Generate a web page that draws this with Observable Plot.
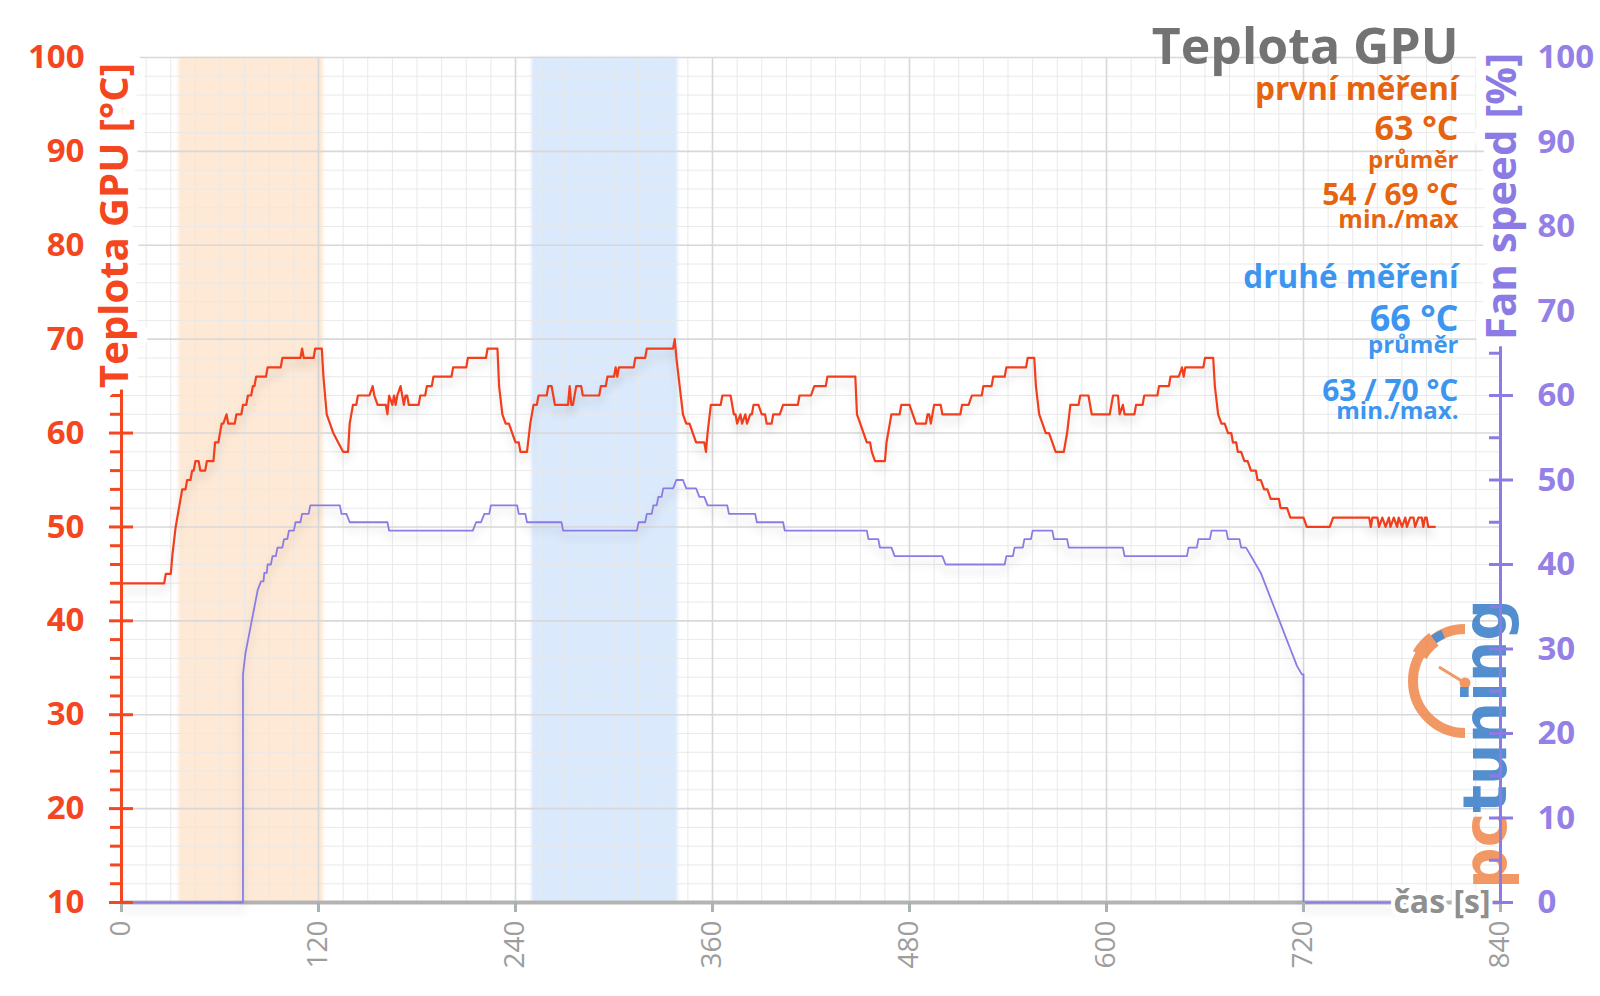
<!DOCTYPE html>
<html>
<head>
<meta charset="utf-8">
<script src="https://cdn.jsdelivr.net/npm/d3@7"></script>
<script src="https://cdn.jsdelivr.net/npm/@observablehq/plot@0.6"></script>
<style>
html, body { margin: 0; padding: 0; background: #fff; }
#chart svg { display: block; }
</style>
</head>
<body>
<div id="chart"></div>
<script>
// ---------- data ----------
const xTicks = [0, 120, 240, 360, 480, 600, 720, 840];
const tempTicks = [10, 20, 30, 40, 50, 60, 70, 80, 90, 100];
const fanTicks = [0, 10, 20, 30, 40, 50, 60, 70, 80, 90, 100];

// GPU temperature [°C] over time [s]
const tempSeries = [[0,44],[26,44],[27,45],[30,45],[31,47],[33,50],[35,52],[37,54],[39,54],[40,55],[42,55],[43,56],[44,56],[45,57],[47,57],[48,56],[51,56],[52,57],[56,57],[57,59],[59,59],[60,60],[61,61],[62,61],[64,62],[65,61],[69,61],[70,62],[73,62],[74,63],[76,63],[77,64],[79,64],[80,65],[81,65],[82,66],[88,66],[89,67],[97,67],[98,68],[109,68],[110,69],[111,68],[117,68],[118,69],[122,69],[123,66],[125,62],[127,61],[129,60],[132,59],[135,58],[138,58],[139,61],[141,63],[143,63],[144,64],[151,64],[153,65],[154,64],[156,63],[161,63],[162,62],[163,64],[165,63],[166,64],[167,63],[168,64],[170,65],[171,64],[172,63],[173,64],[174,64],[175,63],[181,63],[182,64],[185,64],[186,65],[189,65],[190,66],[201,66],[202,67],[210,67],[211,68],[222,68],[223,69],[229,69],[230,65],[232,62],[234,61],[236,61],[238,60],[240,59],[242,59],[243,58],[247,58],[249,61],[251,63],[253,63],[254,64],[259,64],[260,65],[262,65],[263,64],[264,63],[272,63],[273,65],[274,63],[275,63],[277,65],[280,65],[281,64],[291,64],[292,65],[295,65],[296,66],[300,66],[301,67],[302,66],[303,67],[312,67],[313,68],[319,68],[320,69],[336,69],[337,70],[338,68],[340,65],[342,62],[344,61],[346,61],[348,60],[350,59],[355,59],[356,58],[357,60],[359,63],[365,63],[366,64],[371,64],[373,62],[374,62],[375,61],[377,62],[378,61],[380,62],[381,61],[383,62],[384,62],[385,63],[388,63],[390,62],[392,62],[393,61],[396,61],[397,62],[401,62],[403,63],[412,63],[413,64],[420,64],[422,65],[429,65],[430,66],[447,66],[448,62],[450,61],[452,60],[454,59],[456,59],[457,58],[459,57],[465,57],[466,59],[468,61],[469,62],[474,62],[475,63],[480,63],[482,62],[484,61],[490,61],[491,62],[492,62],[493,61],[495,63],[499,63],[500,62],[511,62],[512,63],[516,63],[518,64],[524,64],[525,65],[530,65],[531,66],[538,66],[539,67],[551,67],[552,68],[556,68],[557,65],[559,62],[561,61],[563,60],[565,60],[567,59],[569,58],[574,58],[576,60],[578,63],[583,63],[584,64],[589,64],[591,62],[602,62],[604,64],[607,64],[608,62],[610,63],[611,62],[617,62],[618,63],[622,63],[623,64],[631,64],[632,65],[638,65],[639,66],[644,66],[646,67],[647,66],[648,67],[659,67],[660,68],[665,68],[666,65],[668,62],[670,61],[672,61],[674,60],[676,60],[677,59],[679,59],[680,58],[682,58],[684,57],[686,57],[688,56],[691,56],[692,55],[694,55],[696,54],[698,54],[700,53],[705,53],[706,52],[710,52],[712,51],[720,51],[722,50],[736,50],[738,51],[760,51],[761,50],[762,51],[765,51],[766,50],[768,51],[770,50],[772,51],[773,50],[775,51],[777,50],[778,51],[780,50],[782,51],[783,50],[785,51],[787,51],[788,50],[790,51],[792,51],[793,50],[794,51],[795,51],[796,50],[800,50]];

// Fan speed [%] over time [s]
const fanSeries = [[0,0],[74,0],[74,27],[75.5,29.5],[77,31],[79,33],[81,35],[83,37],[85,38],[86.5,38],[87,39],[88.5,39],[89,40],[91,40],[92,41],[94,41],[95,42],[98,42],[99,43],[101,43],[102,44],[105,44],[106,45],[109,45],[110,46],[114,46],[115,47],[133,47],[134,46],[137,46],[139,45],[162,45],[163,44],[214,44],[216,45],[219,45],[221,46],[224,46],[225,47],[241,47],[242,46],[246,46],[247,45],[268,45],[269,44],[314,44],[315,45],[319,45],[320,46],[323,46],[324,47],[326,47],[327,48],[329,48],[330,49],[336,49],[338,50],[342,50],[344,49],[350,49],[352,48],[355,48],[357,47],[369,47],[370,46],[386,46],[387,45],[403,45],[404,44],[454,44],[455,43],[461,43],[462,42],[469,42],[471,41],[500,41],[502,40],[538,40],[539,41],[543,41],[544,42],[549,42],[550,43],[554,43],[555,44],[567,44],[568,43],[576,43],[577,42],[610,42],[611,41],[649,41],[650,42],[655,42],[656,43],[663,43],[664,44],[673,44],[674,43],[681,43],[682,42],[685,42],[688,41],[691,40],[694,39],[696,38],[698,37],[700,36],[702,35],[704,34],[706,33],[708,32],[710,31],[712,30],[714,29],[716,28],[719,27],[720,27],[720,0],[800,0]];

// highlighted measurement windows [s]
const bandStart = [35, 250];
const bandEnd = [123, 339];
const bandColor = ["#fde9d5", "#dae9fb"];

const titleText = "Teplota GPU";
const yLabel = "Teplota GPU [°C]";
const y2Label = "Fan speed [%]";
const xLabel = "čas [s]";
const run1Text = ["první měření", "63 °C", "průměr", "54 / 69 °C", "min./max"];
const run2Text = ["druhé měření", "66 °C", "průměr", "63 / 70 °C", "min./max."];

// ---------- helpers ----------
const RED = "#f4461f";
const LINE_RED = "#f23e1c";
const PURPLE = "#8c7be4";
const ORANGE = "#e6640f";
const BLUE = "#3c96ef";
const yDomain = [10, 100];
const fanToTemp = f => yDomain[0] + f * (yDomain[1] - yDomain[0]) / 100;
const tempToFan = t => Math.round((t - yDomain[0]) * 100 / (yDomain[1] - yDomain[0]));

const tempMinor = d3.range(10, 101, 2).filter(v => v % 10 !== 0);
const fanMinor = d3.range(5, 100, 10).map(fanToTemp);
const fanMajor = fanTicks.map(fanToTemp);
const xMinor = d3.range(0, 841, 15);

const bands = bandStart.map((s, i) => ({start: s, end: bandEnd[i], color: bandColor[i]}));
const temp = tempSeries.map(([t, v]) => ({t, v}));
const fan = fanSeries.map(([t, f]) => ({t, v: fanToTemp(f)}));

const note = (text, dy, size, fill) => Plot.text([text], {
  text: d => d, frameAnchor: "top-right", dx: -42, dy,
  textAnchor: "end", lineAnchor: "bottom",
  fontSize: size, fontWeight: "bold", fill
});

function logo(index, scales, values, dimensions) {
  const {width, height, marginRight, marginBottom} = dimensions;
  const rx = width - marginRight, by = height - marginBottom;
  const g = d3.create("svg:g").attr("opacity", 0.88);
  const cx = rx - 35, cy = by - 221, r = 52;
  g.append("path")
    .attr("d", `M${cx},${cy - r} A${r},${r} 0 0 0 ${cx},${cy + r}`)
    .attr("fill", "none").attr("stroke", "#f08a4f").attr("stroke-width", 10);
  g.append("path")
    .attr("d", `M${cx - r * 0.87},${cy - r * 0.5} A${r},${r} 0 0 1 ${cx - r * 0.6},${cy - r * 0.8}`)
    .attr("fill", "none").attr("stroke", "#f08a4f").attr("stroke-width", 16);
  g.append("path")
    .attr("d", `M${cx - r * 0.6},${cy - r * 0.8} A${r},${r} 0 0 1 ${cx - r * 0.42},${cy - r * 0.9}`)
    .attr("fill", "none").attr("stroke", "#3c7fc8").attr("stroke-width", 9);
  g.append("line")
    .attr("x1", cx - 26).attr("y1", cy - 14).attr("x2", cx).attr("y2", cy + 2)
    .attr("stroke", "#f08a4f").attr("stroke-width", 3);
  g.append("circle").attr("cx", cx).attr("cy", cy + 2).attr("r", 5.5).attr("fill", "#f08a4f");
  const t = g.append("text")
    .attr("transform", `translate(${rx + 6},${by - 13}) rotate(-90)`)
    .attr("text-anchor", "start")
    .attr("font-family", "DejaVu Sans").attr("font-weight", "bold")
    .attr("font-size", 60).attr("textLength", 290).attr("lengthAdjust", "spacingAndGlyphs");
  t.append("tspan").attr("fill", "#f08a4f").text("pc");
  t.append("tspan").attr("fill", "#3c7fc8").text("tuning");
  return g.node();
}

// ---------- chart ----------
const chart = Plot.plot({
  width: 1600,
  height: 996,
  marginLeft: 121,
  marginRight: 100,
  marginTop: 57,
  marginBottom: 94,
  style: {fontFamily: "'Open Sans', sans-serif", background: "#fff"},
  x: {domain: [0, 840], axis: null},
  y: {domain: yDomain, axis: null},
  marks: [
    Plot.rect(bands.slice(0, 1), {x1: "start", x2: "end", y1: () => yDomain[0], y2: () => yDomain[1], fill: bandColor[0]}),
    Plot.rect(bands.slice(1, 2), {x1: "start", x2: "end", y1: () => yDomain[0], y2: () => yDomain[1], fill: bandColor[1]}),
    Plot.gridX(xMinor, {stroke: "#e9e9e9", strokeOpacity: 1, strokeWidth: 1}),
    Plot.gridY(tempMinor, {stroke: "#e9e9e9", strokeOpacity: 1, strokeWidth: 1}),
    Plot.gridX(xTicks, {stroke: "#d8d8d8", strokeOpacity: 1, strokeWidth: 1.6}),
    Plot.gridY(tempTicks, {stroke: "#d8d8d8", strokeOpacity: 1, strokeWidth: 1.6}),
    logo,
    Plot.ruleY([10], {stroke: "#b3b3b3", strokeWidth: 4}),
    Plot.line(fan, {x: "t", y: "v", stroke: PURPLE, strokeWidth: 1.8}),
    Plot.line(temp, {x: "t", y: "v", stroke: LINE_RED, strokeWidth: 2.2}),
    // x axis
    Plot.axisX(xTicks, {anchor: "bottom", tickSize: 10, stroke: "#a9b3b3", strokeWidth: 3, tickPadding: 8,
      tickRotate: -90, fill: "#9d9d9d", fontSize: 28, label: null}),
    // left axis
    Plot.ruleX([0], {stroke: RED, strokeWidth: 3}),
    Plot.axisY(tempMinor, {anchor: "left", tickSize: 11, stroke: RED, strokeWidth: 3, tickFormat: () => "", label: null}),
    Plot.axisY(tempTicks, {anchor: "left", tickSize: 24, dx: 12, stroke: RED, strokeWidth: 3, tickFormat: () => "", label: null}),
    Plot.axisY(tempTicks, {anchor: "left", tickSize: 0, tickPadding: 37, fill: RED, fontSize: 33, fontWeight: "bold", label: null}),
    // right axis
    Plot.ruleX([840], {stroke: PURPLE, strokeWidth: 3}),
    Plot.axisY(fanMinor, {anchor: "right", tickSize: 12, dx: -12, stroke: PURPLE, strokeWidth: 3, tickFormat: () => "", label: null}),
    Plot.axisY(fanMajor, {anchor: "right", tickSize: 24, dx: -12, stroke: PURPLE, strokeWidth: 3, tickFormat: () => "", label: null}),
    Plot.axisY(fanMajor, {anchor: "right", tickSize: 0, tickPadding: 37, fill: "#9480e6", fontSize: 33, fontWeight: "bold",
      tickFormat: tempToFan, textAnchor: "start", label: null}),
    // axis titles
    Plot.text([yLabel], {text: d => d, frameAnchor: "top-left", dx: -6, dy: 168, rotate: -90,
      textAnchor: "middle", lineAnchor: "middle", fontSize: 40, fontWeight: "bold", fill: RED,
      stroke: "#fff", strokeWidth: 20, strokeLinejoin: "round", paintOrder: "stroke"}),
    Plot.text([y2Label], {text: d => d, frameAnchor: "top-right", dx: 2, dy: 139, rotate: -90,
      textAnchor: "middle", lineAnchor: "middle", fontSize: 42, fontWeight: "bold", fill: PURPLE,
      stroke: "#fff", strokeWidth: 20, strokeLinejoin: "round", paintOrder: "stroke"}),
    Plot.text([xLabel], {text: d => d, frameAnchor: "bottom-right", dx: -10, dy: 0,
      textAnchor: "end", lineAnchor: "middle", fontSize: 32, fontWeight: "bold", fill: "#8f8f8f",
      stroke: "#fff", strokeWidth: 8, strokeLinejoin: "round", paintOrder: "stroke"}),
    // title and stats
    note(titleText, 6, 50, "#737373"),
    note(run1Text[0], 42, 31.5, ORANGE),
    note(run1Text[1], 82, 34, ORANGE),
    note(run1Text[2], 110, 24, ORANGE),
    note(run1Text[3], 147, 30, ORANGE),
    note(run1Text[4], 170, 25, ORANGE),
    note(run2Text[0], 230, 31.5, BLUE),
    note(run2Text[1], 273, 36, BLUE),
    note(run2Text[2], 295, 24, BLUE),
    note(run2Text[3], 343, 30, BLUE),
    note(run2Text[4], 361, 24, BLUE)
  ]
});

document.getElementById("chart").append(chart);
d3.select(chart).selectAll('g[aria-label="line"]').style("filter", "drop-shadow(0px 7px 4px rgba(0,0,0,0.15))");
d3.select(chart).selectAll('g[aria-label="rect"]').style("filter", "blur(1.5px)");
</script>
</body>
</html>
